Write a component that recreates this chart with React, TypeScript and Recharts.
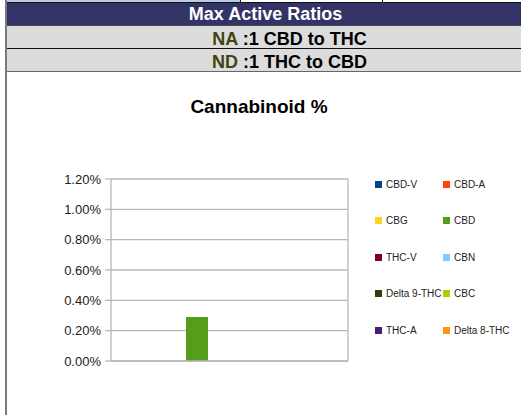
import React from "react";
import { BarChart, Bar, XAxis, YAxis, CartesianGrid } from "recharts";

const categories = ["Cannabinoid %"];
const seriesNames = ["CBD-V", "CBD-A", "CBG", "CBD", "THC-V", "CBN", "Delta 9-THC", "CBC", "THC-A", "Delta 8-THC"];
const seriesValues = [0, 0, 0, 0.29, 0, 0, 0, 0, 0, 0];
const seriesColors = ["#004586", "#ff420e", "#ffd320", "#579d1c", "#7e0021", "#83caff", "#314004", "#aecf00", "#4b1f6f", "#ff950e"];
const yTicks = [0, 0.2, 0.4, 0.6, 0.8, 1.0, 1.2];
const headerTitle = "Max Active Ratios";
const ratioRows = [
  { code: "NA", text: " :1 CBD to THC" },
  { code: "ND", text: " :1 THC to CBD" },
];
const chartTitle = "Cannabinoid %";

const data = categories.map((c) => {
  const row: Record<string, any> = { cat: c };
  seriesNames.forEach((n, i) => (row[n] = seriesValues[i]));
  return row;
});

const FONT = "'Liberation Sans', Arial, Helvetica, sans-serif";
const GRID = "#b8b8b8";

const LegendBlock = () => (
  <div
    style={{
      position: "absolute",
      left: 375,
      top: 166,
      display: "grid",
      gridTemplateColumns: "68px 80px",
      gridAutoRows: "36.5px",
      fontFamily: FONT,
    }}
  >
    {seriesNames.map((n, i) => (
      <div key={n} style={{ display: "flex", alignItems: "center", whiteSpace: "nowrap" }}>
        <span style={{ display: "inline-block", width: 7, height: 7, background: seriesColors[i], marginRight: 4 }} />
        <span style={{ fontSize: 10, color: "#222" }}>{n}</span>
      </div>
    ))}
  </div>
);

export default function App() {
  return (
    <div
      style={{
        position: "fixed",
        left: 0,
        top: 0,
        width: 521,
        height: 415,
        overflow: "hidden",
        background: "#fff",
        fontFamily: FONT,
      }}
    >
      {/* top strip */}
      <div style={{ position: "absolute", left: 7, top: 0, width: 233, height: 2, background: "#b8cce4" }} />
      <div style={{ position: "absolute", left: 240, top: 0, width: 1, height: 2, background: "#111" }} />
      <div style={{ position: "absolute", left: 382, top: 0, width: 1, height: 2, background: "#111" }} />
      <div style={{ position: "absolute", left: 7, top: 2, width: 514, height: 1, background: "#111" }} />
      {/* navy header */}
      <div
        style={{
          position: "absolute",
          left: 7,
          top: 3,
          width: 514,
          height: 22,
          background: "#333366",
          color: "#fff",
          fontWeight: "bold",
          fontSize: 18,
          lineHeight: "22px",
          textAlign: "center",
          paddingLeft: 3,
          boxSizing: "border-box",
        }}
      >
        {headerTitle}
      </div>
      <div style={{ position: "absolute", left: 7, top: 25, width: 514, height: 1, background: "#4a4a4a" }} />
      {ratioRows.map((r, i) => (
        <div
          key={r.code}
          style={{
            position: "absolute",
            left: 7,
            top: 26 + i * 23,
            width: 514,
            height: 22,
            background: "#dcdcdc",
            fontWeight: "bold",
            fontSize: 18,
            lineHeight: "22px",
            paddingTop: 2,
            paddingLeft: 51,
            boxSizing: "border-box",
            textAlign: "center",
            color: "#000",
            overflow: "hidden",
          }}
        >
          <span style={{ color: "#43430f" }}>{r.code}</span>
          {r.text}
        </div>
      ))}
      <div style={{ position: "absolute", left: 7, top: 48, width: 514, height: 1, background: "#111" }} />
      <div style={{ position: "absolute", left: 7, top: 71, width: 514, height: 1, background: "#666" }} />
      {/* left border */}
      <div style={{ position: "absolute", left: 5, top: 0, width: 2, height: 415, background: "#7a7a7a" }} />
      {/* chart title */}
      <div
        style={{
          position: "absolute",
          left: 0,
          top: 94,
          width: 518,
          textAlign: "center",
          fontWeight: "bold",
          fontSize: 19,
          lineHeight: "26px",
          color: "#000",
        }}
      >
        {chartTitle}
      </div>
      <div style={{ position: "absolute", left: 0, top: 0 }}>
        <BarChart
          width={521}
          height={415}
          data={data}
          margin={{ top: 179, right: 172, bottom: 49, left: 0 }}
          barGap={0}
          barCategoryGap={9}
        >
          <CartesianGrid vertical={false} stroke={GRID} strokeWidth={1.3} />
          <XAxis
            dataKey="cat"
            height={5}
            tick={false}
            tickLine={false}
            axisLine={{ stroke: GRID, strokeWidth: 1.3 }}
          />
          <YAxis
            width={111}
            domain={[0, 1.2]}
            ticks={yTicks}
            interval={0}
            tickSize={6}
            tickMargin={4}
            tickFormatter={(v: number) => v.toFixed(2) + "%"}
            tick={{ fill: "#222", fontSize: 13, fontFamily: FONT }}
            axisLine={{ stroke: GRID, strokeWidth: 1.3 }}
            tickLine={{ stroke: GRID, strokeWidth: 1.3 }}
          />
          <YAxis
            yAxisId="right"
            orientation="right"
            width={1}
            domain={[0, 1]}
            tick={false}
            tickLine={false}
            axisLine={{ stroke: GRID, strokeWidth: 1.3 }}
          />
          {seriesNames.map((n, i) => (
            <Bar key={n} dataKey={n} name={n} fill={seriesColors[i]} isAnimationActive={false} />
          ))}
        </BarChart>
      </div>
      <LegendBlock />
    </div>
  );
}
